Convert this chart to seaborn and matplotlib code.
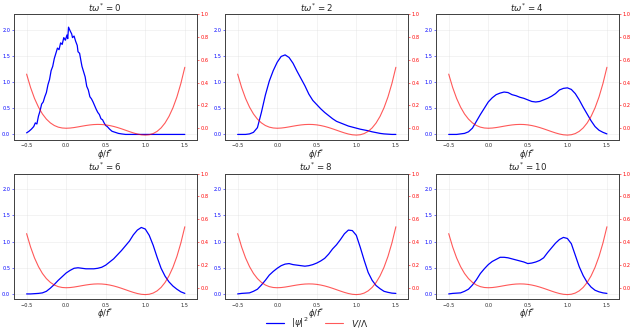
import numpy as np
import pandas as pd
import matplotlib
matplotlib.use('Agg')
import matplotlib.pyplot as plt
import seaborn as sns

# field grid phi/f* (step 0.05) shared by most curves
phi = np.round(np.arange(-0.5, 1.5001, 0.05), 2)

# potential V/Lambda
V = [0.474, 0.357, 0.261, 0.185, 0.125, 0.080, 0.047, 0.024, 0.0096, 0.0022,
     0.0, 0.0017, 0.0060, 0.0118, 0.0181, 0.0240, 0.0289, 0.0323, 0.0336, 0.0327,
     0.0294, 0.0237, 0.0158, 0.0061, -0.0051, -0.0172, -0.0294, -0.0409, -0.0506, -0.0574,
     -0.060, -0.0569, -0.0466, -0.0273, 0.0029, 0.0459, 0.104, 0.179, 0.274, 0.392,
     0.534]

# t=0 is noisy, so it has its own sample points
phi_t0 = [-0.5, -0.47, -0.44, -0.41, -0.39, -0.37, -0.35, -0.33, -0.31, -0.29,
          -0.27, -0.25, -0.23, -0.21, -0.19, -0.17, -0.15, -0.13, -0.11, -0.09,
          -0.07, -0.05, -0.03, -0.01, 0.01, 0.02, 0.03, 0.05, 0.07, 0.08,
          0.10, 0.12, 0.14, 0.15, 0.17, 0.19, 0.20, 0.22, 0.24, 0.26,
          0.28, 0.30, 0.32, 0.34, 0.36, 0.38, 0.40, 0.42, 0.44, 0.46,
          0.48, 0.50, 0.52, 0.55, 0.58, 0.62, 0.66, 0.70, 0.75, 1.0, 1.5]
psi_t0 = [0.03, 0.06, 0.10, 0.15, 0.22, 0.20, 0.35, 0.45, 0.58, 0.62,
          0.72, 0.80, 0.95, 1.05, 1.22, 1.30, 1.45, 1.55, 1.65, 1.62,
          1.75, 1.72, 1.85, 1.80, 1.90, 1.83, 2.05, 1.98, 1.92, 1.85,
          1.88, 1.78, 1.70, 1.58, 1.55, 1.38, 1.30, 1.20, 1.10, 0.92,
          0.85, 0.72, 0.68, 0.62, 0.55, 0.48, 0.42, 0.38, 0.30, 0.28,
          0.22, 0.17, 0.15, 0.10, 0.06, 0.04, 0.02, 0.01, 0.0, 0.0, 0.0]

psi_t2 = [0.0, 0.0, 0.0, 0.01, 0.04, 0.13, 0.42, 0.75, 1.02, 1.22,
          1.38, 1.49, 1.52, 1.47, 1.36, 1.21, 1.07, 0.93, 0.77, 0.65,
          0.57, 0.49, 0.42, 0.36, 0.30, 0.25, 0.22, 0.19, 0.16, 0.14,
          0.12, 0.10, 0.085, 0.07, 0.05, 0.035, 0.02, 0.01, 0.005, 0.0,
          0.0]
psi_t4 = [0.0, 0.0, 0.0, 0.01, 0.02, 0.05, 0.12, 0.25, 0.38, 0.50,
          0.62, 0.70, 0.76, 0.79, 0.81, 0.80, 0.76, 0.74, 0.71, 0.69,
          0.66, 0.63, 0.62, 0.63, 0.66, 0.69, 0.73, 0.78, 0.85, 0.88,
          0.89, 0.86, 0.78, 0.66, 0.52, 0.39, 0.26, 0.15, 0.08, 0.04,
          0.01]
psi_t6 = [0.0, 0.0, 0.005, 0.01, 0.02, 0.05, 0.11, 0.18, 0.26, 0.33,
          0.40, 0.45, 0.49, 0.50, 0.49, 0.48, 0.48, 0.48, 0.49, 0.51,
          0.55, 0.61, 0.67, 0.75, 0.83, 0.92, 1.01, 1.13, 1.22, 1.27,
          1.24, 1.12, 0.93, 0.70, 0.49, 0.34, 0.23, 0.15, 0.09, 0.04,
          0.01]
psi_t8 = [0.0, 0.01, 0.015, 0.02, 0.05, 0.09, 0.17, 0.26, 0.36, 0.43,
          0.49, 0.54, 0.57, 0.58, 0.56, 0.55, 0.54, 0.53, 0.54, 0.56,
          0.59, 0.63, 0.68, 0.76, 0.86, 0.94, 1.04, 1.15, 1.22, 1.21,
          1.12, 0.89, 0.64, 0.41, 0.26, 0.16, 0.10, 0.05, 0.03, 0.015,
          0.01]
psi_t10 = [0.0, 0.01, 0.015, 0.02, 0.05, 0.09, 0.17, 0.27, 0.39, 0.48,
           0.56, 0.62, 0.66, 0.70, 0.70, 0.69, 0.67, 0.65, 0.63, 0.61,
           0.58, 0.59, 0.61, 0.64, 0.69, 0.79, 0.88, 0.97, 1.04, 1.08,
           1.06, 0.96, 0.74, 0.52, 0.35, 0.22, 0.13, 0.07, 0.04, 0.02,
           0.01]

times = [0, 2, 4, 6, 8, 10]
psi_x = [phi_t0, phi, phi, phi, phi, phi]
psi_y = [psi_t0, psi_t2, psi_t4, psi_t6, psi_t8, psi_t10]

sns.set_style('white')
plt.rcParams['font.family'] = ['DejaVu Sans']

fig, axes = plt.subplots(2, 3, figsize=(6.34, 3.35), dpi=100)
fig.subplots_adjust(left=0.022, right=0.976, top=0.958, bottom=0.107,
                    wspace=0.155, hspace=0.27)

tick_fs = 3.6
pot = pd.DataFrame({'phi': phi, 'V': V})
for ax, t, xs, ys in zip(axes.flat, times, psi_x, psi_y):
    df = pd.DataFrame({'phi': xs, 'psi': ys})
    sns.lineplot(data=df, x='phi', y='psi', ax=ax, color='blue', lw=0.9,
                 label=r'$|\psi|^2$', legend=False)
    ax.set_ylim(-0.1, 2.3)
    ax.set_xlim(-0.66, 1.65)
    ax.set_xticks([-0.5, 0.0, 0.5, 1.0, 1.5])
    ax.set_yticks([0.0, 0.5, 1.0, 1.5, 2.0])
    ax.tick_params(axis='y', colors='blue', labelsize=tick_fs, length=1.5,
                   width=0.4, pad=1.2)
    ax.tick_params(axis='x', labelsize=tick_fs, length=1.5, width=0.4, pad=1.0)
    ax.grid(True, color='#dddddd', lw=0.4, alpha=0.6)
    ax.set_title(r'$t\omega^{*}$ = %d' % t, fontsize=6.2, pad=1.5)
    ax.set_xlabel(r'$\phi/f^{*}$', fontsize=6, labelpad=-0.5)
    ax.set_ylabel('')

    ax2 = ax.twinx()
    sns.lineplot(data=pot, x='phi', y='V', ax=ax2, color='red', lw=0.8,
                 alpha=0.65, label=r'$V/\Lambda$', legend=False)
    ax2.set_ylim(-0.1, 1.0)
    ax2.set_yticks([0.0, 0.2, 0.4, 0.6, 0.8, 1.0])
    ax2.tick_params(axis='y', colors='red', labelsize=tick_fs, length=1.5,
                    width=0.4, pad=1.2)
    ax2.set_ylabel('')
    for a in (ax, ax2):
        for s in a.spines.values():
            s.set_color('#444444')
            s.set_linewidth(0.7)

h1, l1 = axes[0, 0].get_legend_handles_labels()
h2, l2 = fig.axes[-1].get_legend_handles_labels()
fig.legend(h1 + h2, l1 + l2, loc='lower center', ncol=2, frameon=False,
           fontsize=6.5, bbox_to_anchor=(0.5, -0.01), handlelength=2,
           columnspacing=1.8)

fig.savefig('out.png', dpi=100)
